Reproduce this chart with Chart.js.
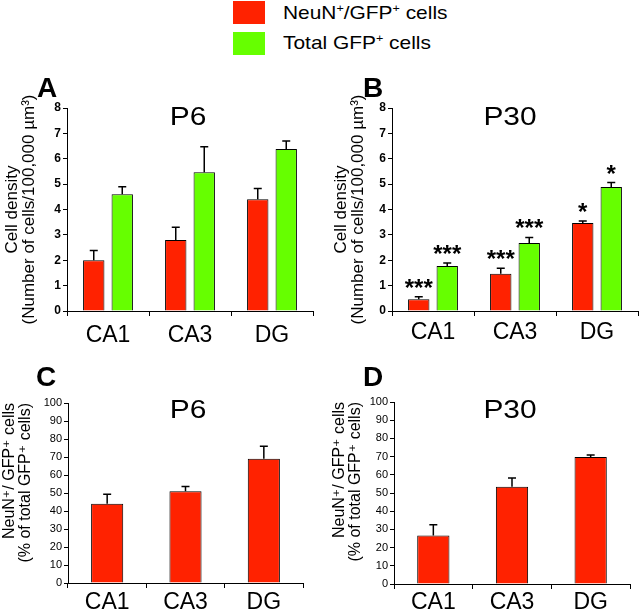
<!DOCTYPE html>
<html>
<head>
<meta charset="utf-8">
<script src="https://cdn.jsdelivr.net/npm/chart.js@4.4.1/dist/chart.umd.min.js"></script>
<style>
  body { margin: 0; background: #fff; font-family: "Liberation Sans", Arial, "DejaVu Sans", sans-serif; }
  #wrap { position: relative; width: 640px; height: 616px; overflow: hidden; background: #fff; }
  canvas { position: absolute; }
  .t { position: absolute; white-space: nowrap; color: #000; line-height: 1; }
  .letter { font-weight: bold; font-size: 28px; }
  .ptitle { font-size: 26px; transform: translateX(-50%) scaleX(1.15); }
  .leg { font-size: 19px; transform-origin: left; transform: scaleX(1.1); }
  .leg sup { font-size: 0.6em; vertical-align: 0.6em; line-height: 0; }
  .box { position: absolute; width: 32px; height: 23px; }
</style>
</head>
<body>
<div id="wrap">
  <!-- legend -->
  <div class="box" style="left:233px;top:1px;background:#ff2200"></div>
  <div class="box" style="left:233px;top:32px;background:#66ff00"></div>
  <div class="t leg" style="left:283px;top:3px">NeuN<sup>+</sup>/GFP<sup>+</sup> cells</div>
  <div class="t leg" style="left:283px;top:33px">Total GFP<sup>+</sup> cells</div>

  <canvas id="chartA" width="320" height="300" style="left:0;top:60px"></canvas>
  <canvas id="chartB" width="320" height="300" style="left:320px;top:60px"></canvas>
  <canvas id="chartC" width="320" height="266" style="left:0;top:350px"></canvas>
  <canvas id="chartD" width="320" height="266" style="left:320px;top:350px"></canvas>

  <!-- panel letters and titles -->
  <div class="t letter" style="left:37px;top:74px">A</div>
  <div class="t letter" style="left:363px;top:74px">B</div>
  <div class="t letter" style="left:36px;top:363px">C</div>
  <div class="t letter" style="left:363px;top:363px">D</div>
  <div class="t ptitle" style="left:188px;top:103px">P6</div>
  <div class="t ptitle" style="left:510px;top:103px">P30</div>
  <div class="t ptitle" style="left:188px;top:396px">P6</div>
  <div class="t ptitle" style="left:510px;top:396px">P30</div>
</div>

<script>
// ---- data ----
const regions = ['CA1', 'CA3', 'DG'];

// cell density, P6
const p6NeuN = [2.0, 2.8, 4.4];
const p6NeuNErr = [0.38, 0.5, 0.43];
const p6Total = [4.6, 5.47, 6.38];
const p6TotalErr = [0.3, 1.0, 0.32];

// cell density, P30
const p30NeuN = [0.46, 1.47, 3.47];
const p30NeuNErr = [0.1, 0.21, 0.08];
const p30Total = [1.77, 2.68, 4.89];
const p30TotalErr = [0.12, 0.22, 0.17];
const p30NeuNSig = ['***', '***', '*'];
const p30TotalSig = ['***', '***', '*'];

// % NeuN+ of total GFP+
const p6Pct = [44, 51, 69];
const p6PctErr = [5.3, 2.6, 7];
const p30Pct = [26.7, 53.5, 69.8];
const p30PctErr = [5.9, 4.7, 1.1];

const RED = '#ff2200';
const GREEN = '#66ff00';
const FONT = '"Liberation Sans", Arial, "DejaVu Sans", sans-serif';

// error bars (upper half only) + significance stars
const errorBarPlugin = {
  id: 'errorBars',
  afterDatasetsDraw(chart) {
    const ctx = chart.ctx;
    const yScale = chart.scales.y;
    chart.data.datasets.forEach((ds, i) => {
      const meta = chart.getDatasetMeta(i);
      meta.data.forEach((bar, j) => {
        const err = ds.errors ? ds.errors[j] : 0;
        const top = yScale.getPixelForValue(ds.data[j] + err);
        ctx.save();
        ctx.strokeStyle = '#000';
        ctx.lineWidth = 1.5;
        ctx.beginPath();
        ctx.moveTo(bar.x, bar.y);
        ctx.lineTo(bar.x, top);
        ctx.moveTo(bar.x - 4, top);
        ctx.lineTo(bar.x + 4, top);
        ctx.stroke();
        if (ds.sig) {
          ctx.fillStyle = '#000';
          ctx.font = 'bold 24px ' + FONT;
          ctx.textAlign = 'center';
          ctx.textBaseline = 'alphabetic';
          ctx.fillText(ds.sig[j], bar.x, top - 1);
        }
        ctx.restore();
      });
    });
  }
};

function makePanel(id, p) {
  return new Chart(document.getElementById(id), {
    type: 'bar',
    data: { labels: regions, datasets: p.datasets },
    options: {
      responsive: false,
      animation: false,
      layout: { padding: p.pad },
      plugins: { legend: { display: false }, tooltip: { enabled: false } },
      scales: {
        x: {
          afterFit: s => { s.height = p.xHeight; },
          grid: { offset: true, drawOnChartArea: false, tickLength: 5, color: '#000' },
          border: { display: true, color: '#000', width: 1 },
          ticks: { color: '#000', padding: p.xPad, font: { family: FONT, size: 23 } }
        },
        y: {
          min: 0, max: p.max,
          afterFit: s => { s.width = p.yWidth; },
          grid: { drawOnChartArea: false, tickLength: 4, color: '#000' },
          border: { display: true, color: '#000', width: 1 },
          ticks: { stepSize: p.step, color: '#000', padding: 2,
                   font: { family: FONT, size: p.tickSize, weight: p.tickWeight } },
          title: {
            display: true, text: p.yTitle, color: '#000', align: p.titleAlign || 'center',
            padding: { top: p.titlePad, bottom: 0 },
            font: { family: FONT, size: p.titleSize, lineHeight: 1 }
          }
        }
      }
    },
    plugins: [errorBarPlugin]
  });
}

const densityTitle = ['Cell density', '(Number of cells/100,000 \u00b5m\u00b3)'];
const pctTitle = ['NeuN\u207a/ GFP\u207a cells', '(% of total GFP\u207a cells)'];

function pairSets(neun, neunErr, total, totalErr, neunSig, totalSig) {
  const common = { borderColor: '#000', borderWidth: 1, categoryPercentage: 0.695, barPercentage: 0.75 };
  return [
    Object.assign({ data: neun, errors: neunErr, sig: neunSig, backgroundColor: RED }, common),
    Object.assign({ data: total, errors: totalErr, sig: totalSig, backgroundColor: GREEN }, common)
  ];
}

function singleSet(vals, errs) {
  return [{ data: vals, errors: errs, backgroundColor: RED, borderColor: '#000', borderWidth: 1,
            categoryPercentage: 1, barPercentage: 0.41 }];
}

makePanel('chartA', {
  datasets: pairSets(p6NeuN, p6NeuNErr, p6Total, p6TotalErr),
  pad: { left: 0, right: 7, top: 48, bottom: 9 },
  xHeight: 40, xPad: 6, yWidth: 67, max: 8, step: 1,
  tickSize: 12, tickWeight: 'bold', yTitle: densityTitle, titleSize: 17, titlePad: 4
});

makePanel('chartB', {
  datasets: pairSets(p30NeuN, p30NeuNErr, p30Total, p30TotalErr, p30NeuNSig, p30TotalSig),
  pad: { left: 9, right: 2, top: 48, bottom: 9 },
  xHeight: 40, xPad: 3, yWidth: 63, max: 8, step: 1,
  tickSize: 12, tickWeight: 'bold', yTitle: densityTitle, titleSize: 17, titlePad: 4
});

makePanel('chartC', {
  datasets: singleSet(p6Pct, p6PctErr),
  pad: { left: 0, right: 17, top: 53, bottom: 3 },
  xHeight: 30, xPad: 1, yWidth: 68, max: 100, step: 10,
  tickSize: 11, tickWeight: 'normal', yTitle: pctTitle, titleSize: 16, titlePad: 2, titleAlign: 'end'
});

makePanel('chartD', {
  datasets: singleSet(p30Pct, p30PctErr),
  pad: { left: 10, right: 10, top: 52, bottom: 2 },
  xHeight: 30, xPad: 0, yWidth: 64, max: 100, step: 10,
  tickSize: 11, tickWeight: 'normal', yTitle: pctTitle, titleSize: 16, titlePad: 2, titleAlign: 'end'
});
</script>
</body>
</html>
